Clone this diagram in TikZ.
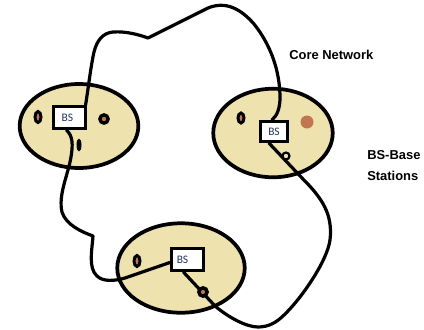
\documentclass[tikz,border=0pt]{standalone}
\usepackage{fontspec}
\newfontfamily\labelfont{Liberation Sans}
\newfontfamily\bsfont{Carlito}
\usetikzlibrary{shapes.geometric,calc}
\definecolor{cellfill}{RGB}{238,226,174}
\definecolor{dotbrown}{RGB}{192,118,80}
\definecolor{bsblue}{RGB}{35,52,95}
\pgfdeclarelayer{paper}
\pgfdeclarelayer{cells}
\pgfdeclarelayer{links}
\pgfsetlayers{paper,cells,links,main}

\begin{document}
\begin{tikzpicture}[x=0.75pt,y=-0.75pt,
  cell/.style={ellipse, draw=black, line width=2.8pt, fill=cellfill, inner sep=0pt},
  bsbox/.style={rectangle, draw=black, line width=2.4pt, fill=white, inner sep=0pt,
    minimum width=24pt, minimum height=16.5pt,
    font=\bsfont\fontsize{8.6}{9}\selectfont, text=bsblue},
  link/.style={line width=2.4pt, line cap=round, line join=round},
  ringdot/.style={ellipse, draw=black, line width=2.2pt, fill=dotbrown, inner sep=0pt},
  blackdot/.style={ellipse, fill=black, inner sep=0pt},
  browndot/.style={circle, fill=dotbrown, inner sep=0pt},
  title/.style={inner sep=0pt, font=\labelfont\bfseries\fontsize{9.7}{15.75}\selectfont}
]
\begin{pgfonlayer}{paper}
\fill[white] (0,0) rectangle (424,329);
\end{pgfonlayer}
\useasboundingbox (0,0) rectangle (424,329);

% the three cells
\begin{pgfonlayer}{cells}
\node[cell, minimum width=89pt,   minimum height=63pt]   (lcell) at (79,126)  {};
\node[cell, minimum width=89.6pt, minimum height=66.4pt] (rcell) at (273,133) {};
\node[cell, minimum width=95.6pt, minimum height=67.1pt] (bcell) at (181,268) {};
\end{pgfonlayer}

% base station boxes
\node[bsbox] (lbox) at (69.5,117.5) {\hspace*{-3pt}BS};
\node[bsbox, minimum width=20.25pt, minimum height=15pt] (rbox) at (274,131.5) {BS};
\node[bsbox] (bbox) at (187.5,259.5) {\hspace*{-7.5pt}BS};

% devices inside the cells
\node[ringdot, minimum width=4.5pt, minimum height=8.25pt] (d1) at (38,117) {};
\node[ringdot, line width=2.5pt, minimum width=6.2pt, minimum height=6.2pt] (d2) at (104,119) {};
\node[blackdot, minimum width=3.75pt, minimum height=9.75pt] (d3) at (79,145) {};
\node[ringdot, minimum width=4.5pt, minimum height=7.5pt] (d4) at (241,118) {};
\node[browndot, minimum size=9.75pt] (d5) at (307,122) {};
\node[ringdot, line width=1.6pt, fill=cellfill, minimum width=5.25pt, minimum height=5.25pt] (d6) at (286,156) {};
\node[ringdot, minimum width=4.5pt, minimum height=8.25pt] (d7) at (137,261) {};
\node[ringdot, line width=2.6pt, minimum width=6.2pt, minimum height=6.2pt] (d8) at (203,292) {};

% links between the base stations
\begin{pgfonlayer}{links}
\draw[link] ($(lbox.north east)+(-1.5,0)$)
  .. controls (88,90) and (91,65) .. (94,52)
  .. controls (97,40) and (103,33) .. (113,32)
  .. controls (126,31) and (140,35) .. (148,38)
  -- (208,8)
  .. controls (225,1) and (240,8) .. (254,24)
  .. controls (270,44) and (280,70) .. (280,98)
  .. controls (280,108) and (277,116) .. ($(rbox.north)+(-2,0)$);
\draw[link] ($(rbox.south)+(-5,0)$) -- (302,178)
  .. controls (322,198) and (333,214) .. (330,240)
  .. controls (327,262) and (300,300) .. (284,315)
  .. controls (276,323) and (268,327) .. (258,327)
  .. controls (246,327) and (228,317) .. (215,306)
  -- ($(bbox.south)+(-4,0)$);
\draw[link] ($(lbox.south)+(-3,0)$)
  .. controls (73,136) and (73,145) .. (71,157)
  .. controls (68,175) and (58,195) .. (62,212)
  .. controls (66,225) and (82,232) .. (93,236)
  .. controls (92,250) and (88,268) .. (97,276)
  .. controls (103,282) and (115,281) .. (125,278)
  -- ($(bbox.west)+(0,3)$);
\end{pgfonlayer}

% labels
\node[title, anchor=west] (core) at (289,55) {Core Network};
\node[title, anchor=west, align=left] (legend) at (367,165.5) {BS-Base\\Stations};
\end{tikzpicture}
\end{document}
